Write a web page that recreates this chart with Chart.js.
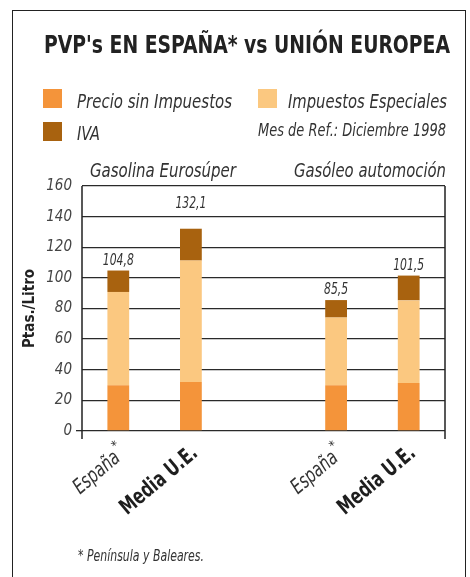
<!DOCTYPE html>
<html>
<head>
<meta charset="utf-8">
<script src="https://cdn.jsdelivr.net/npm/chart.js@4.4.1/dist/chart.umd.min.js"></script>
<style>
  html, body { margin: 0; padding: 0; background: #fff; }
  body { width: 470px; height: 577px; position: relative; overflow: hidden;
         font-family: "DejaVu Sans Condensed", "Liberation Sans", sans-serif; color: #333; }
  #frame { position: absolute; left: 12px; top: 10px; width: 452px; height: 620px; border: 1.5px solid #222; }
  canvas { position: absolute; left: 0; top: 0; }
  .txt { position: absolute; white-space: nowrap; line-height: 1; transform-origin: 0 0; }
  .it { font-style: italic; }
  .sw { position: absolute; width: 19px; height: 19px; }
</style>
</head>
<body>
<div id="frame"></div>
<canvas id="chart" width="470" height="577"></canvas>
<div class="txt" data-w="406" style="left:44px;top:32px;font-size:25px;font-weight:bold;color:#222">PVP's EN ESPAÑA* vs UNIÓN EUROPEA</div>
<div class="sw" style="left:43px;top:89px;background:#F4943A"></div>
<div class="txt it" data-w="155" style="left:77px;top:91px;font-size:20px">Precio sin Impuestos</div>
<div class="sw" style="left:258px;top:89px;background:#FBC880"></div>
<div class="txt it" data-w="159" style="left:288px;top:91px;font-size:20px">Impuestos Especiales</div>
<div class="sw" style="left:43px;top:122px;background:#A8620F"></div>
<div class="txt it" data-w="23" style="left:77px;top:123px;font-size:20px">IVA</div>
<div class="txt it" data-w="188" style="left:258px;top:122px;font-size:17.5px">Mes de Ref.: Diciembre 1998</div>
<div class="txt it" data-w="146" style="left:90px;top:159.5px;font-size:20px">Gasolina Eurosúper</div>
<div class="txt it" data-w="152" style="left:294px;top:159.5px;font-size:20px">Gasóleo automoción</div>
<div class="txt it" data-w="126" style="left:78px;top:549px;font-size:15px">* Península y Baleares.</div>
<script>
const categories = ['España', 'Media U.E.', '', 'España', 'Media U.E.'];
const precioSinImpuestos = [29.8, 32.0, null, 29.8, 31.3];
const impuestosEspeciales = [61.0, 79.3, null, 44.3, 54.0];
const iva = [14.0, 20.8, null, 11.4, 16.2];
const totals = [104.8, 132.1, null, 85.5, 101.5];
const yTicks = [0, 20, 40, 60, 80, 100, 120, 140, 160];

const fontFam = '"DejaVu Sans Condensed", "Liberation Sans", sans-serif';

// squeeze the html texts to the width of the condensed original
document.querySelectorAll('.txt[data-w]').forEach(el => {
  const w = el.getBoundingClientRect().width;
  el.style.transform = 'scaleX(' + (el.dataset.w / w) + ')';
});

// totals above each stack
const totalLabels = {
  id: 'totalLabels',
  afterDatasetsDraw(chart) {
    const ctx = chart.ctx;
    const x = chart.scales.x, y = chart.scales.y;
    ctx.save();
    ctx.font = 'italic 16px ' + fontFam;
    ctx.fillStyle = '#333';
    ctx.textAlign = 'center';
    ctx.textBaseline = 'alphabetic';
    totals.forEach((t, i) => {
      if (t == null) return;
      let base = y.getPixelForValue(t) - 6;
      // move up above a grid line when it would cut through the number
      yTicks.forEach(v => {
        const gy = y.getPixelForValue(v);
        if (gy < base + 1 && gy > base - 13) base = gy - 9;
      });
      ctx.save();
      ctx.translate(x.getPixelForValue(i), base);
      ctx.scale(0.75, 1);
      ctx.fillText(t.toFixed(1).replace('.', ','), 0, 0);
      ctx.restore();
    });
    ctx.restore();
  }
};

// slanted category labels, condensed
const xLabels = {
  id: 'xLabels',
  afterDraw(chart) {
    const ctx = chart.ctx, x = chart.scales.x, a = chart.chartArea;
    const ang = -40 * Math.PI / 180;
    categories.forEach((c, i) => {
      if (!c) return;
      const cx = x.getPixelForValue(i);
      const bold = c.startsWith('Media');
      ctx.save();
      ctx.fillStyle = bold ? '#1e1e1e' : '#333';
      ctx.font = bold ? 'bold 22px ' + fontFam : 'italic 21px ' + fontFam;
      ctx.textAlign = 'right';
      ctx.textBaseline = 'alphabetic';
      const target = bold ? 94 : 54;
      const sx = target / ctx.measureText(c).width;
      if (bold) ctx.translate(cx + 8, a.bottom + 24);
      else ctx.translate(cx + 3, a.bottom + 29);
      ctx.rotate(ang);
      ctx.save();
      ctx.scale(sx, 1);
      ctx.fillText(c, 0, 0);
      ctx.restore();
      if (!bold) {
        ctx.font = '13px ' + fontFam;
        ctx.textAlign = 'left';
        ctx.fillText('*', 2, -11);
      }
      ctx.restore();
    });
  }
};

// left / right borders of the plot, running a bit below zero
const sideLines = {
  id: 'sideLines',
  afterDraw(chart) {
    const a = chart.chartArea, ctx = chart.ctx;
    ctx.save();
    ctx.strokeStyle = '#222';
    ctx.lineWidth = 1.5;
    ctx.beginPath();
    ctx.moveTo(a.left, a.top); ctx.lineTo(a.left, a.bottom + 8);
    ctx.moveTo(a.right, a.top); ctx.lineTo(a.right, a.bottom + 8);
    ctx.stroke();
    ctx.restore();
  }
};

new Chart(document.getElementById('chart'), {
  type: 'bar',
  data: {
    labels: categories,
    datasets: [
      { label: 'Precio sin Impuestos', data: precioSinImpuestos, backgroundColor: '#F4943A' },
      { label: 'Impuestos Especiales', data: impuestosEspeciales, backgroundColor: '#FBC880' },
      { label: 'IVA', data: iva, backgroundColor: '#A8620F' }
    ]
  },
  options: {
    responsive: false,
    animation: false,
    layout: { padding: { top: 186, right: 25, left: 0, bottom: 0 } },
    datasets: { bar: { categoryPercentage: 1, barPercentage: 0.3 } },
    plugins: { legend: { display: false }, tooltip: { enabled: false } },
    scales: {
      x: {
        stacked: true,
        grid: { display: false },
        border: { display: false },
        ticks: { display: false },
        afterFit(s) { s.height = 146; }
      },
      y: {
        stacked: true,
        min: 0,
        max: 160,
        afterFit(s) { s.width = 82; },
        afterBuildTicks(s) { s.ticks = yTicks.map(v => ({ value: v })); },
        border: { display: false },
        grid: {
          color: '#2a2a2a',
          lineWidth: 1.3,
          tickLength: 6,
          tickColor: (c) => c.tick && c.tick.value === 0 ? '#2a2a2a' : 'rgba(0,0,0,0)'
        },
        ticks: {
          padding: 4,
          color: '#444',
          font: { family: fontFam, size: 15, style: 'italic' }
        },
        title: {
          display: true,
          text: 'Ptas./Litro',
          color: '#222',
          font: { family: fontFam, size: 15, weight: 'bold' },
          padding: { top: 21, bottom: 0 }
        }
      }
    }
  },
  plugins: [totalLabels, xLabels, sideLines]
});
</script>
</body>
</html>
